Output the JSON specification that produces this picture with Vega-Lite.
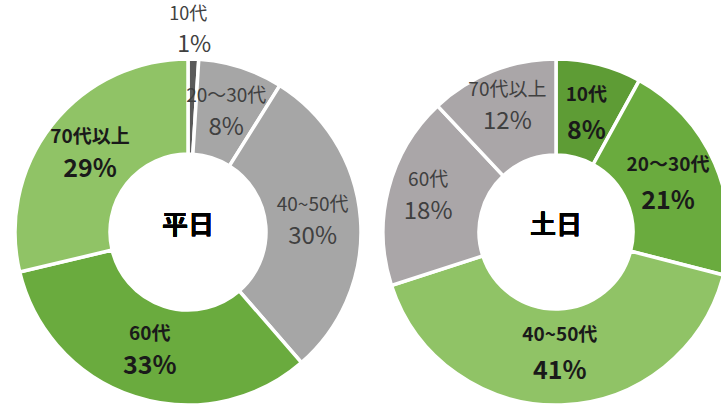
{
  "$schema": "https://vega.github.io/schema/vega-lite/v6.json",
  "padding": 0,
  "spacing": 12,
  "bounds": "flush",
  "config": {"view": {"stroke": null}, "font": "Noto Sans CJK JP"},
  "resolve": {"scale": {"color": "independent", "theta": "independent"}},
  "data": {"values": [
    {"day": "平日", "age": "10代", "idx": 1, "pct": 1},
    {"day": "平日", "age": "20～30代", "idx": 2, "pct": 8},
    {"day": "平日", "age": "40~50代", "idx": 3, "pct": 30},
    {"day": "平日", "age": "60代", "idx": 4, "pct": 33},
    {"day": "平日", "age": "70代以上", "idx": 5, "pct": 29},
    {"day": "土日", "age": "10代", "idx": 1, "pct": 8},
    {"day": "土日", "age": "20～30代", "idx": 2, "pct": 21},
    {"day": "土日", "age": "40~50代", "idx": 3, "pct": 41},
    {"day": "土日", "age": "60代", "idx": 4, "pct": 18},
    {"day": "土日", "age": "70代以上", "idx": 5, "pct": 12}
  ]},
  "hconcat": [
    {
      "width": 376,
      "height": 464,
      "transform": [
        {"filter": "datum.day === '平日'"},
        {"stack": "pct", "groupby": ["day"], "sort": [{"field": "idx", "order": "ascending"}], "as": ["p0", "p1"]},
        {"calculate": "(datum.p0 + datum.p1) / 2", "as": "mid"},
        {"calculate": "datum.pct + '%'", "as": "pctLabel"}
      ],
      "layer": [
        {
          "mark": {"type": "arc", "outerRadius": 173, "innerRadius": 78, "stroke": "white", "strokeWidth": 3.5},
          "encoding": {
            "theta": {"field": "p0", "type": "quantitative", "scale": {"domain": [0, 101]}},
            "theta2": {"field": "p1"},
            "color": {"field": "age", "type": "nominal", "legend": null,
              "scale": {"domain": ["10代", "20～30代", "40~50代", "60代", "70代以上"],
                        "range": ["#5a5a5a", "#a6a6a6", "#a6a6a6", "#6aab3e", "#90c366"]}}
          }
        },
        {
          "transform": [{"filter": "datum.age === '20～30代' || datum.age === '40~50代'"}],
          "mark": {"type": "text", "radius": 125, "dy": -17, "fontSize": 19, "color": "#404040"},
          "encoding": {
            "theta": {"field": "mid", "type": "quantitative"},
            "text": {"field": "age"}
          }
        },
        {
          "transform": [{"filter": "datum.age === '20～30代' || datum.age === '40~50代'"}],
          "mark": {"type": "text", "radius": 125, "dy": 15, "fontSize": 24, "color": "#404040"},
          "encoding": {
            "theta": {"field": "mid", "type": "quantitative"},
            "text": {"field": "pctLabel"}
          }
        },
        {
          "transform": [{"filter": "datum.age === '60代' || datum.age === '70代以上'"}],
          "mark": {"type": "text", "radius": 125, "dy": -17, "fontSize": 19, "fontWeight": "bold", "color": "#1a1a1a"},
          "encoding": {
            "theta": {"field": "mid", "type": "quantitative"},
            "text": {"field": "age"}
          }
        },
        {
          "transform": [{"filter": "datum.age === '60代' || datum.age === '70代以上'"}],
          "mark": {"type": "text", "radius": 125, "dy": 15, "fontSize": 25, "fontWeight": "bold", "color": "#1a1a1a"},
          "encoding": {
            "theta": {"field": "mid", "type": "quantitative"},
            "text": {"field": "pctLabel"}
          }
        },
        {
          "transform": [{"filter": "datum.age === '10代'"}],
          "mark": {"type": "text", "radius": 201, "dy": -16, "dx": -6, "fontSize": 18, "color": "#404040"},
          "encoding": {
            "theta": {"field": "mid", "type": "quantitative"},
            "text": {"field": "age"}
          }
        },
        {
          "transform": [{"filter": "datum.age === '10代'"}],
          "mark": {"type": "text", "radius": 201, "dy": 14, "fontSize": 23, "color": "#404040"},
          "encoding": {
            "theta": {"field": "mid", "type": "quantitative"},
            "text": {"field": "pctLabel"}
          }
        },
        {
          "mark": {"type": "text", "text": "平日", "fontSize": 26, "fontWeight": "bold", "color": "#000000", "dy": -6},
          "encoding": {}
        }
      ]
    },
    {
      "width": 336,
      "height": 464,
      "transform": [
        {"filter": "datum.day === '土日'"},
        {"stack": "pct", "groupby": ["day"], "sort": [{"field": "idx", "order": "ascending"}], "as": ["p0", "p1"]},
        {"calculate": "(datum.p0 + datum.p1) / 2", "as": "mid"},
        {"calculate": "datum.pct + '%'", "as": "pctLabel"}
      ],
      "layer": [
        {
          "mark": {"type": "arc", "outerRadius": 173, "innerRadius": 77, "stroke": "white", "strokeWidth": 3.5},
          "encoding": {
            "theta": {"field": "p0", "type": "quantitative", "scale": {"domain": [0, 100]}},
            "theta2": {"field": "p1"},
            "color": {"field": "age", "type": "nominal", "legend": null,
              "scale": {"domain": ["10代", "20～30代", "40~50代", "60代", "70代以上"],
                        "range": ["#5e9c35", "#6aab3e", "#90c366", "#aaa6a8", "#aaa6a8"]}}
          }
        },
        {
          "transform": [{"filter": "datum.age === '60代' || datum.age === '70代以上'"}],
          "mark": {"type": "text", "radius": 132, "dy": -19, "fontSize": 19, "color": "#404040"},
          "encoding": {
            "theta": {"field": "mid", "type": "quantitative"},
            "text": {"field": "age"}
          }
        },
        {
          "transform": [{"filter": "datum.age === '60代' || datum.age === '70代以上'"}],
          "mark": {"type": "text", "radius": 132, "dy": 13, "fontSize": 24, "color": "#404040"},
          "encoding": {
            "theta": {"field": "mid", "type": "quantitative"},
            "text": {"field": "pctLabel"}
          }
        },
        {
          "transform": [{"filter": "datum.age === '10代' || datum.age === '20～30代' || datum.age === '40~50代'"}],
          "mark": {"type": "text", "radius": 122, "dy": -19, "fontSize": 19, "fontWeight": "bold", "color": "#1a1a1a"},
          "encoding": {
            "theta": {"field": "mid", "type": "quantitative"},
            "text": {"field": "age"}
          }
        },
        {
          "transform": [{"filter": "datum.age === '10代' || datum.age === '20～30代' || datum.age === '40~50代'"}],
          "mark": {"type": "text", "radius": 122, "dy": 17, "fontSize": 25, "fontWeight": "bold", "color": "#1a1a1a"},
          "encoding": {
            "theta": {"field": "mid", "type": "quantitative"},
            "text": {"field": "pctLabel"}
          }
        },
        {
          "mark": {"type": "text", "text": "土日", "fontSize": 26, "fontWeight": "bold", "color": "#000000", "dy": -6},
          "encoding": {}
        }
      ]
    }
  ]
}
